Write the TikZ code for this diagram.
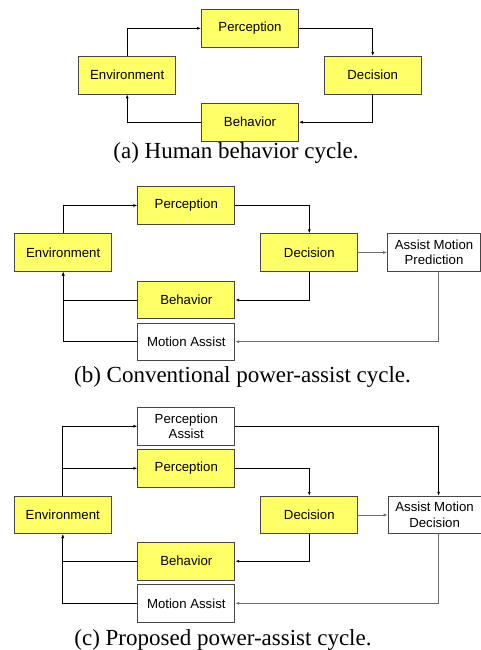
\documentclass[tikz,border=0pt]{standalone}
\usepackage{fontspec}
\setmainfont{Liberation Sans}
\newfontfamily\capfont{Liberation Serif}
\usetikzlibrary{arrows.meta,positioning}
\definecolor{boxyellow}{RGB}{255,255,102}
\definecolor{lineg}{RGB}{70,70,70}

\begin{document}
\begin{tikzpicture}[x=1pt,y=-1pt,
box/.style={draw=lineg,line width=0.8pt,minimum width=97pt,minimum height=37.5pt,
inner sep=1pt,align=center,font=\fontsize{13.2}{15.5}\selectfont},
yel/.style={box,fill=boxyellow},
wht/.style={box,fill=white},
arr/.style={-{Latex[length=4pt,width=3pt]},line width=0.8pt},
garr/.style={arr,draw=lineg!80},
captext/.style={font=\capfont\fontsize{23}{26}\selectfont}]
\useasboundingbox (0,0) rectangle (481,650);

\node[yel] (p1) at (250,28.3) {Perception};
\node[yel] (e1) at (127.2,75.2) {Environment};
\node[yel] (d1) at (372.7,75.2) {Decision};
\node[yel] (b1) at (250,122.2) {Behavior};
\node[captext] (c1) at (236,153) {(a) Human behavior cycle.};
\draw[arr] (e1.north) |- (p1.west);
\draw[arr] (p1.east) -| (d1.north);
\draw[arr] (d1.south) |- (b1.east);
\draw[arr] (b1.west) -| (e1.south);

\node[yel] (p2) at (186.3,205.5) {Perception};
\node[yel] (e2) at (63.2,252.5) {Environment};
\node[yel] (d2) at (309.3,252.5) {Decision};
\node[wht,minimum width=93pt] (ap2) at (434,252.5) {Assist Motion\\Prediction};
\node[yel] (b2) at (186.3,300) {Behavior};
\node[wht] (ma2) at (186.3,341.7) {Motion Assist};
\node[captext] (c2) at (242.5,377) {(b) Conventional power-assist cycle.};
\draw[arr] (e2.north) |- (p2.west);
\draw[arr] (p2.east) -| (d2.north);
\draw[arr] (d2.south) |- (b2.east);
\draw[arr] (b2.west) -| (e2.south);
\draw[arr] (ma2.west) -| (e2.south);
\draw[garr] (d2) -- (ap2);
\draw[garr] ([xshift=4pt]ap2.south) |- (ma2.east);

\node[wht] (pa3) at (186.3,426.2) {Perception\\Assist};
\node[yel] (p3) at (186.3,468.3) {Perception};
\node[yel] (e3) at (62.8,515) {Environment};
\node[yel] (d3) at (309.3,515) {Decision};
\node[wht,minimum width=93pt] (ad3) at (434.6,515) {Assist Motion\\Decision};
\node[yel] (b3) at (186.3,561.2) {Behavior};
\node[wht] (ma3) at (186.3,603.3) {Motion Assist};
\node[captext] (c3) at (223,640) {(c) Proposed power-assist cycle.};
\draw[arr] (e3.north) |- (pa3.west);
\draw[arr] (e3.north) |- (p3.west);
\draw[arr] (pa3.east) -| ([xshift=4pt]ad3.north);
\draw[arr] (p3.east) -| (d3.north);
\draw[garr] (d3) -- (ad3);
\draw[arr] (d3.south) |- (b3.east);
\draw[arr] (b3.west) -| (e3.south);
\draw[arr] (ma3.west) -| (e3.south);
\draw[garr] ([xshift=4pt]ad3.south) |- (ma3.east);
\end{tikzpicture}
\end{document}
